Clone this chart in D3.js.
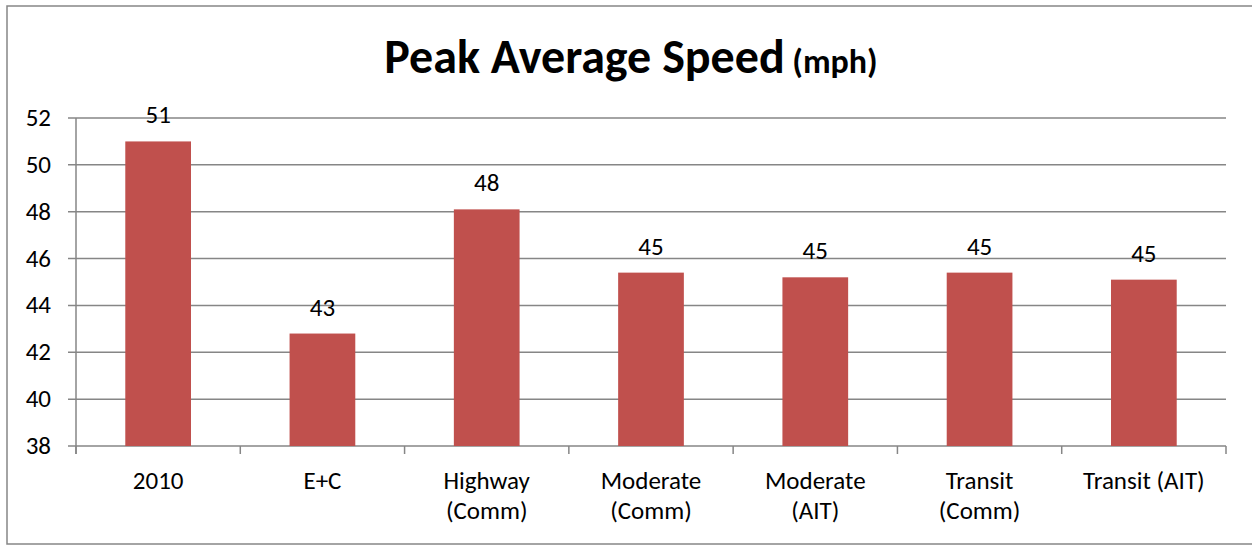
<!DOCTYPE html>
<html>
<head>
<meta charset="utf-8">
<script src="https://cdn.jsdelivr.net/npm/d3@7"></script>
<style>
  body { margin: 0; background: #fff; }
  text { font-family: Carlito, Lato, "Open Sans", sans-serif; fill: #000; }
</style>
</head>
<body>
<svg id="chart" width="1252" height="546"></svg>
<script>
// chart data
var categories = ["2010", "E+C", "Highway\n(Comm)", "Moderate\n(Comm)", "Moderate\n(AIT)", "Transit\n(Comm)", "Transit (AIT)"];
var speeds = [51.0, 42.8, 48.1, 45.4, 45.2, 45.4, 45.1];
var yTicks = [38, 40, 42, 44, 46, 48, 50, 52];

var svg = d3.select("#chart");

var plotLeft = 76, plotRight = 1226, plotTop = 118, plotBottom = 446;
var grey = "#868686";
var fs = 25;

// outer frame
svg.append("rect")
  .attr("x", 7).attr("y", 6)
  .attr("width", 1252).attr("height", 538)
  .attr("fill", "#fff")
  .attr("stroke", grey)
  .attr("stroke-width", 1.5);

var x = d3.scaleBand()
  .domain(categories)
  .range([plotLeft, plotRight])
  .paddingInner(0.6)
  .paddingOuter(0.3);

var y = d3.scaleLinear()
  .domain([38, 52])
  .range([plotBottom, plotTop]);

// gridlines + y tick marks
svg.append("g")
  .selectAll("line")
  .data(yTicks)
  .enter().append("line")
  .attr("x1", plotLeft - 8).attr("x2", plotRight)
  .attr("y1", function(d){ return y(d); })
  .attr("y2", function(d){ return y(d); })
  .attr("stroke", grey)
  .attr("stroke-width", 1.5);

svg.append("g")
  .selectAll("text")
  .data(yTicks)
  .enter().append("text")
  .attr("x", 51)
  .attr("y", function(d){ return y(d) + 8; })
  .attr("text-anchor", "end")
  .attr("font-size", fs)
  .text(function(d){ return d; });

// bars
svg.append("g")
  .selectAll("rect")
  .data(speeds)
  .enter().append("rect")
  .attr("x", function(d, i){ return x(categories[i]); })
  .attr("y", function(d){ return y(d); })
  .attr("width", x.bandwidth())
  .attr("height", function(d){ return plotBottom - y(d); })
  .attr("fill", "#C0504D");

// value labels
svg.append("g")
  .selectAll("text")
  .data(speeds)
  .enter().append("text")
  .attr("x", function(d, i){ return x(categories[i]) + x.bandwidth() / 2; })
  .attr("y", function(d){ return y(d) - 18; })
  .attr("text-anchor", "middle")
  .attr("font-size", fs)
  .text(function(d){ return Math.round(d); });

// y axis line
svg.append("line")
  .attr("x1", plotLeft).attr("x2", plotLeft)
  .attr("y1", plotTop).attr("y2", plotBottom + 8)
  .attr("stroke", grey).attr("stroke-width", 1.5);

// x ticks at category boundaries
var bounds = d3.range(categories.length + 1).map(function(i){
  return plotLeft + i * (plotRight - plotLeft) / categories.length;
});
svg.append("g")
  .selectAll("line")
  .data(bounds)
  .enter().append("line")
  .attr("x1", function(d){ return d; }).attr("x2", function(d){ return d; })
  .attr("y1", plotBottom).attr("y2", plotBottom + 8)
  .attr("stroke", grey).attr("stroke-width", 1.5);

// category labels
var catLabel = svg.append("g")
  .selectAll("text")
  .data(categories)
  .enter().append("text")
  .attr("text-anchor", "middle")
  .attr("font-size", fs)
  .attr("x", function(d){ return x(d) + x.bandwidth() / 2; })
  .attr("y", 489);

catLabel.selectAll("tspan")
  .data(function(d){ return d.split("\n"); })
  .enter().append("tspan")
  .attr("x", function(){ return this.parentNode.getAttribute("x"); })
  .attr("dy", function(d, i){ return i == 0 ? 0 : 30; })
  .text(function(d){ return d; });

// title
var title = svg.append("text")
  .attr("x", 631).attr("y", 73)
  .attr("text-anchor", "middle")
  .attr("font-weight", "bold");
title.append("tspan").attr("font-size", 48).text("Peak Average Speed");
title.append("tspan").attr("font-size", 34).text(" (mph)");
</script>
</body>
</html>
